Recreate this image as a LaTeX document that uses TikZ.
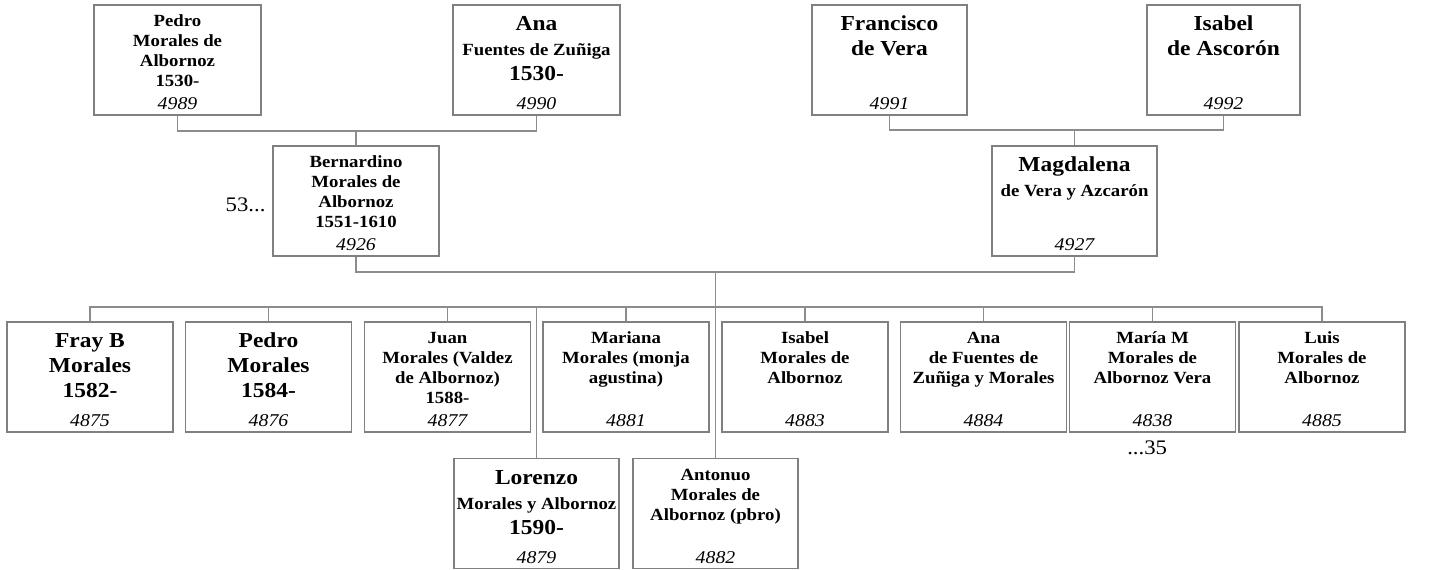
\documentclass[tikz,border=0pt]{standalone}
\usepackage{fontspec}
\setmainfont{Liberation Serif}[FakeStretch=1.1]
\usetikzlibrary{positioning}

\definecolor{boxgray}{HTML}{808080}
\definecolor{linegray}{HTML}{8C8C8C}
\newcommand\nst{\rule[-3.45pt]{0pt}{15pt}}
\newcommand\bst{\rule[-4.35pt]{0pt}{18.75pt}}
\newcommand\nm[1]{\nst#1}
\newcommand\nmb[1]{\bst#1}
\newcommand\bg[1]{{\fontsize{16}{0}\selectfont\bst#1}}
\newcommand\namefont{\bfseries\fontsize{12.8}{0}\selectfont\lineskip=0pt\lineskiplimit=0pt}

\tikzset{
  pbox/.style={draw=boxgray, line width=0.9pt, minimum width=#1, minimum height=82.5pt, inner sep=0pt},
  pbox/.default=124.5pt,
  ptext/.style={anchor=north, align=center, inner sep=0pt, font=\namefont},
  pnum/.style={anchor=base, inner sep=0pt, font=\itshape\fontsize{13.5}{15}\selectfont},
  gen/.style={font=\fontsize{15.5}{18}\selectfont, inner sep=0pt},
  link/.style={draw=linegray, line width=0.9pt},
}

\begin{document}
\begin{tikzpicture}[x=0.75pt, y=-0.75pt]
  \useasboundingbox (0,0) rectangle (1430,569);

  % grandparents
  \node[pbox=125.25pt] (pedroA) at (177.5,60) {};
  \node[ptext] (pedroA-t) at ([yshift=-5pt]pedroA.north) {\nm{Pedro}\\\nm{Morales de}\\\nm{Albornoz}\\\nm{1530-}};
  \node[pnum] (pedroA-n) at ([yshift=4.5pt]pedroA.south) {4989};

  \node[pbox=125.25pt] (anaA) at (536.5,60) {};
  \node[ptext] (anaA-t) at ([yshift=-5pt]anaA.north) {\bg{Ana}\\\nmb{Fuentes de Zuñiga}\\\bg{1530-}};
  \node[pnum] (anaA-n) at ([yshift=4.5pt]anaA.south) {4990};

  \node[pbox=116.25pt] (francisco) at (889.5,60) {};
  \node[ptext] (francisco-t) at ([yshift=-5pt]francisco.north) {\bg{Francisco}\\\bg{de Vera}};
  \node[pnum] (francisco-n) at ([yshift=4.5pt]francisco.south) {4991};

  \node[pbox=114.75pt] (isabelA) at (1223.5,60) {};
  \node[ptext] (isabelA-t) at ([yshift=-5pt]isabelA.north) {\bg{Isabel}\\\bg{de Ascorón}};
  \node[pnum] (isabelA-n) at ([yshift=4.5pt]isabelA.south) {4992};

  % parents
  \node[pbox] (bernardino) at (356,201) {};
  \node[ptext] (bernardino-t) at ([yshift=-5pt]bernardino.north) {\nm{Bernardino}\\\nm{Morales de}\\\nm{Albornoz}\\\nm{1551-1610}};
  \node[pnum] (bernardino-n) at ([yshift=4.5pt]bernardino.south) {4926};
  \node[gen, anchor=base east] (gen53) at ([xshift=-5pt, yshift=-8pt]bernardino.west) {53...};

  \node[pbox=123.75pt] (magdalena) at (1074.5,201) {};
  \node[ptext] (magdalena-t) at ([yshift=-5pt]magdalena.north) {\bg{Magdalena}\\\nmb{de Vera y Azcarón}};
  \node[pnum] (magdalena-n) at ([yshift=4.5pt]magdalena.south) {4927};

  % children
  \node[pbox] (frayb) at (90,377) {};
  \node[ptext] (frayb-t) at ([yshift=-5pt]frayb.north) {\bg{Fray B}\\\bg{Morales}\\\bg{1582-}};
  \node[pnum] (frayb-n) at ([yshift=4.5pt]frayb.south) {4875};

  \node[pbox] (pedroB) at (268.5,377) {};
  \node[ptext] (pedroB-t) at ([yshift=-5pt]pedroB.north) {\bg{Pedro}\\\bg{Morales}\\\bg{1584-}};
  \node[pnum] (pedroB-n) at ([yshift=4.5pt]pedroB.south) {4876};

  \node[pbox] (juan) at (447.5,377) {};
  \node[ptext] (juan-t) at ([yshift=-5pt]juan.north) {\nm{Juan}\\\nm{Morales (Valdez}\\\nm{de Albornoz)}\\\nm{1588-}};
  \node[pnum] (juan-n) at ([yshift=4.5pt]juan.south) {4877};

  \node[pbox] (mariana) at (626,377) {};
  \node[ptext] (mariana-t) at ([yshift=-5pt]mariana.north) {\nm{Mariana}\\\nm{Morales (monja}\\\nm{agustina)}};
  \node[pnum] (mariana-n) at ([yshift=4.5pt]mariana.south) {4881};

  \node[pbox] (isabelB) at (805,377) {};
  \node[ptext] (isabelB-t) at ([yshift=-5pt]isabelB.north) {\nm{Isabel}\\\nm{Morales de}\\\nm{Albornoz}};
  \node[pnum] (isabelB-n) at ([yshift=4.5pt]isabelB.south) {4883};

  \node[pbox] (anaB) at (983.5,377) {};
  \node[ptext] (anaB-t) at ([yshift=-5pt]anaB.north) {\nm{Ana}\\\nm{de Fuentes de}\\\nm{Zuñiga y Morales}};
  \node[pnum] (anaB-n) at ([yshift=4.5pt]anaB.south) {4884};

  \node[pbox] (maria) at (1152.5,377) {};
  \node[ptext] (maria-t) at ([yshift=-5pt]maria.north) {\nm{María M}\\\nm{Morales de}\\\nm{Albornoz Vera}};
  \node[pnum] (maria-n) at ([yshift=4.5pt]maria.south) {4838};
  \node[gen, anchor=base] (gen35) at ([xshift=-4pt, yshift=-16.5pt]maria.south) {...35};

  \node[pbox] (luis) at (1322,377) {};
  \node[ptext] (luis-t) at ([yshift=-5pt]luis.north) {\nm{Luis}\\\nm{Morales de}\\\nm{Albornoz}};
  \node[pnum] (luis-n) at ([yshift=4.5pt]luis.south) {4885};

  \node[pbox=123.75pt] (lorenzo) at (536.5,513.5) {};
  \node[ptext] (lorenzo-t) at ([yshift=-5pt]lorenzo.north) {\bg{Lorenzo}\\\nmb{Morales y Albornoz}\\\bg{1590-}};
  \node[pnum] (lorenzo-n) at ([yshift=4.5pt]lorenzo.south) {4879};

  \node[pbox=123.75pt] (antonuo) at (715.5,513.5) {};
  \node[ptext] (antonuo-t) at ([yshift=-5pt]antonuo.north) {\nm{Antonuo}\\\nm{Morales de}\\\nm{Albornoz (pbro)}};
  \node[pnum] (antonuo-n) at ([yshift=4.5pt]antonuo.south) {4882};

  % connectors
  \coordinate (barA) at (356,131);
  \coordinate (barB) at (1074.5,130);
  \coordinate (barC) at (715.5,272);
  \coordinate (sib) at (715.5,307);
  \draw[link] (pedroA.south) |- (barA) -| (anaA.south);
  \draw[link] (barA) -- (bernardino.north);
  \draw[link] (francisco.south) |- (barB) -| (isabelA.south);
  \draw[link] (barB) -- (magdalena.north);
  \draw[link] (bernardino.south) |- (barC) -| (magdalena.south);
  \draw[link] (barC) -- (antonuo.north);
  \draw[link] (frayb.north) |- (sib) -| (luis.north);
  \foreach \kid in {pedroB, juan, mariana, isabelB, anaB, maria, lorenzo}
    \draw[link] (\kid.north) -- (\kid.north |- sib);
\end{tikzpicture}
\end{document}
